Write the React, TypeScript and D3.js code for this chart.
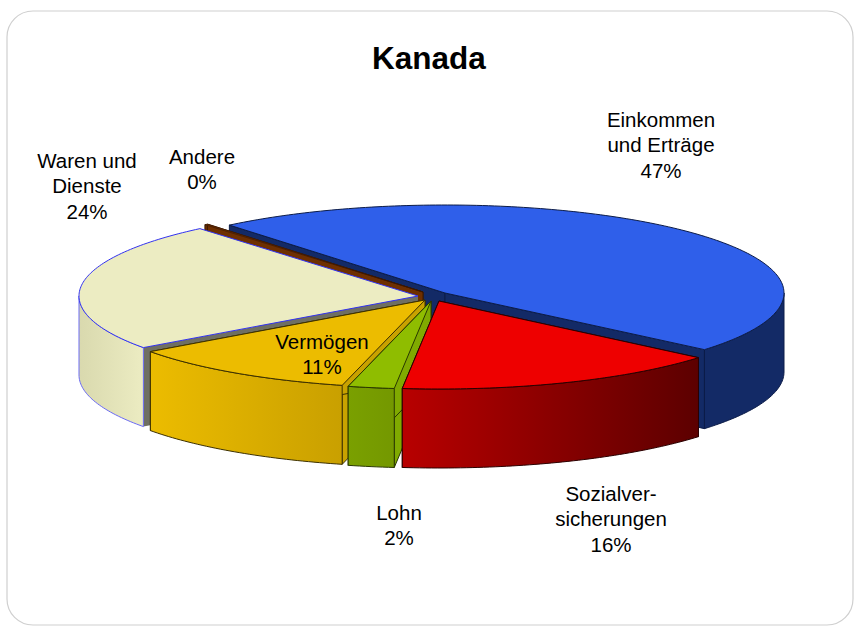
import React from "react";
import * as d3 from "d3";

const categories = ["Einkommen und Erträge", "Sozialversicherungen", "Lohn", "Vermögen", "Waren und Dienste", "Andere"];
const shares = [47.1, 15.6, 2.2, 11.1, 23.85, 0.15];

const W = 854, H = 627;
const RX = 339, RY = 88, DEPTH = 79;
const START_DEG = -39.5;

// exploded centre of every slice
const centreX = [445, 439, 431, 425, 418, 423];
const centreY = [293, 301, 301, 300, 296, 292];
const topColors = ["#2f5fea", "#ee0000", "#8fbd00", "#ecbc00", "#ececc2", "#6e2f00"];
const cutColors = ["#132a66", "#8a0000", "#80aa00", "#c8a200", "#6f6f62", "#6e2f00"];
const wallFrom = ["#132a66", "#b80000", "#7aa000", "#ecbc00", "#d9d9ae", "#6e2f00"];
const wallTo = ["#132a66", "#5c0000", "#749800", "#c9a000", "#ececc2", "#6e2f00"];
const strokes = ["#0c1c48", "#2a0000", "#2a3800", "#3c3000", "#3232f0", "#3a1800"];
const paintOrder = [0, 5, 4, 3, 2, 1];

const labels = [
  { lines: ["Einkommen", "und Erträge", "47%"], x: 661, y: 127 },
  { lines: ["Sozialver-", "sicherungen", "16%"], x: 611, y: 501 },
  { lines: ["Lohn", "2%"], x: 399, y: 520 },
  { lines: ["Vermögen", "11%"], x: 322, y: 349 },
  { lines: ["Waren und", "Dienste", "24%"], x: 87, y: 168 },
  { lines: ["Andere", "0%"], x: 202, y: 164 },
];
const LINE = 25.3;

const FONT = "'Liberation Sans', Arial, sans-serif";

const arcs = d3
  .pie<number>()
  .sort(null)
  .startAngle((START_DEG * Math.PI) / 180)
  .endAngle(((START_DEG + 360) * Math.PI) / 180)(shares);

const unitX = d3.scaleLinear().domain([-1, 1]).range([-RX, RX]);
const unitY = d3.scaleLinear().domain([-1, 1]).range([RY, -RY]);
const line = d3.line<[number, number]>();

function arcPoints(i: number, a: number, b: number, drop = 0): [number, number][] {
  const n = Math.max(2, Math.ceil((Math.abs(b - a) * 180) / Math.PI));
  return d3.range(n + 1).map((k) => {
    const t = a + ((b - a) * k) / n;
    return [centreX[i] + unitX(Math.sin(t)), centreY[i] + drop + unitY(Math.cos(t))] as [number, number];
  });
}

function Slice({ i }: { i: number }) {
  const { startAngle: a, endAngle: b } = arcs[i];
  const apex: [number, number] = [centreX[i], centreY[i]];
  const apexLow: [number, number] = [centreX[i], centreY[i] + DEPTH];
  const cut = (t: number) => {
    const [p] = arcPoints(i, t, t);
    return line([apex, p, [p[0], p[1] + DEPTH], apexLow])! + "Z";
  };
  const top = line([apex, ...arcPoints(i, a, b)])! + "Z";
  const lo = Math.max(a, Math.PI / 2);
  const hi = Math.min(b, (3 * Math.PI) / 2);
  const hasWall = hi > lo;
  const wall = hasWall
    ? line([...arcPoints(i, lo, hi), ...arcPoints(i, hi, lo, DEPTH)])! + "Z"
    : null;
  const xs = hasWall ? arcPoints(i, lo, hi).map((p) => p[0]) : [0, 1];
  const gid = `wall${i}`;
  return (
    <g strokeWidth={1} strokeLinejoin="round">
      <defs>
        <linearGradient id={gid} gradientUnits="userSpaceOnUse" x1={d3.min(xs)} x2={d3.max(xs)} y1={0} y2={0}>
          <stop offset="0" stopColor={wallFrom[i]} />
          <stop offset="1" stopColor={wallTo[i]} />
        </linearGradient>
      </defs>
      <path d={cut(a)} fill={cutColors[i]} stroke={i === 4 ? "none" : strokes[i]} />
      <path d={cut(b)} fill={cutColors[i]} stroke={i === 4 ? "none" : strokes[i]} />
      {wall && <path d={wall} fill={`url(#${gid})`} stroke={i === 4 ? "#6a6af5" : strokes[i]} />}
      <path d={top} fill={topColors[i]} stroke={strokes[i]} strokeWidth={i === 5 ? 0.6 : 1} />
    </g>
  );
}

export default function App() {
  return (
    <svg
      width={W}
      height={H}
      viewBox={`0 0 ${W} ${H}`}
      style={{ position: "absolute", left: 0, top: 0, display: "block", background: "#fff" }}
      fontFamily={FONT}
    >
      <rect x={7} y={11} width={846} height={614} rx={26} ry={26} fill="#fff" stroke="#cfcfcf" strokeWidth={1.2} />
      <text x={429} y={69} textAnchor="middle" fontSize={31.5} fontWeight="bold" fill="#000">
        Kanada
      </text>
      {paintOrder.map((i) => (
        <Slice key={categories[i]} i={i} />
      ))}
      {labels.map((l, i) => (
        <text key={categories[i]} textAnchor="middle" fontSize={20.5} fill="#000">
          {l.lines.map((s, k) => (
            <tspan key={k} x={l.x} y={l.y + k * LINE}>
              {s}
            </tspan>
          ))}
        </text>
      ))}
    </svg>
  );
}
